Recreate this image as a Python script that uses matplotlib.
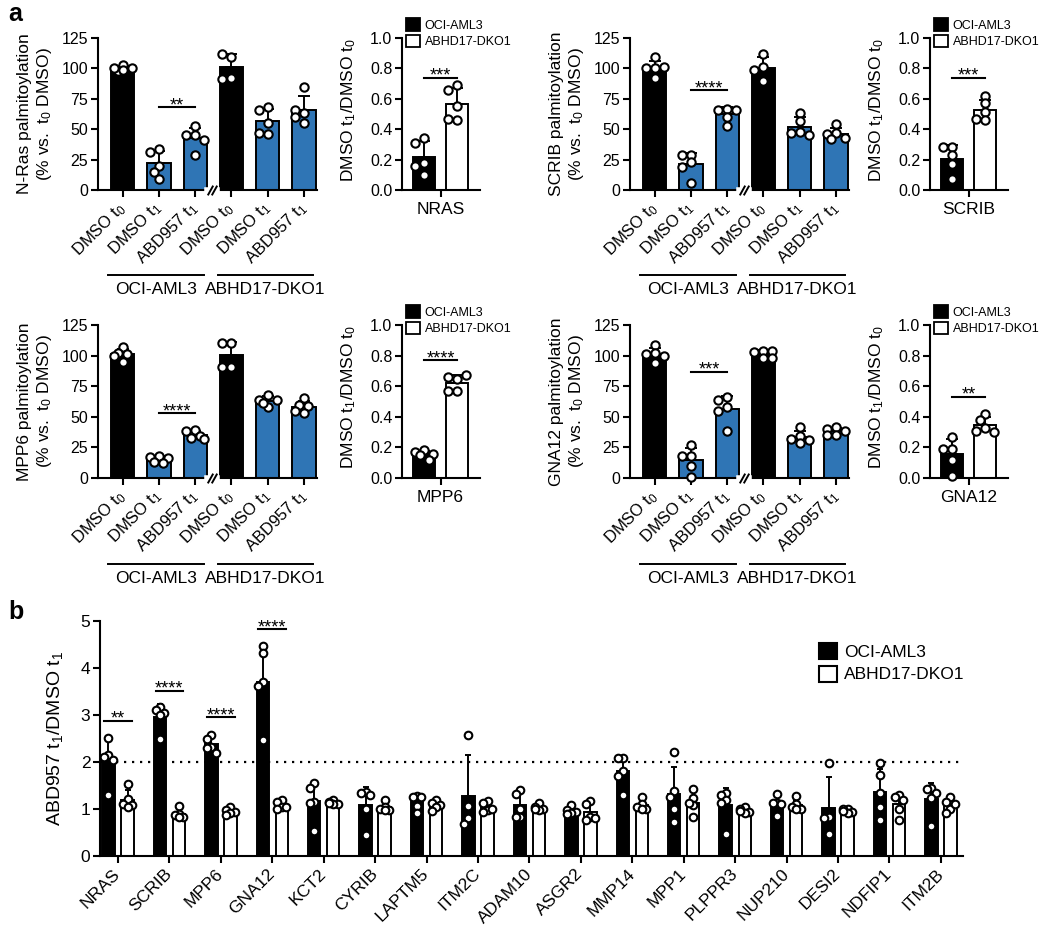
import numpy as np
import matplotlib.pyplot as plt
import matplotlib.transforms as mtransforms
from matplotlib.patches import Patch

plt.rcParams['font.family'] = ['Liberation Sans', 'DejaVu Sans']
plt.rcParams['mathtext.fontset'] = 'custom'
plt.rcParams['mathtext.rm'] = 'Liberation Sans'
plt.rcParams['mathtext.it'] = 'Liberation Sans:italic'
plt.rcParams['axes.linewidth'] = 1.5

BLUE = '#2f75b5'

# ---- panel a data (% vs t0 DMSO), order: OCI t0, OCI t1, OCI ABD, DKO t0, DKO t1, DKO ABD
nras_main = [[103, 98, 100, 100, 99], [34, 31, 20, 15, 9], [53, 45, 45, 41, 29],
             [109, 112, 92, 91], [68, 66, 55, 46, 47], [85, 63, 66, 55, 60]]
scrib_main = [[109, 100, 100, 92, 101], [29, 29, 23, 19, 6], [67, 66, 66, 53, 60],
              [112, 101, 99, 90], [63, 57, 48, 47, 45], [54, 47, 46, 43, 42]]
mpp6_main = [[107, 102, 101, 95, 100], [18, 17, 16, 13, 12], [39, 38, 34, 33, 32],
             [110, 110, 91, 91], [68, 64, 64, 58, 61], [65, 60, 59, 55, 53]]
gna12_main = [[109, 102, 101, 94, 100], [27, 18, 18, 10, 1], [66, 64, 58, 55, 38],
              [104, 103, 104, 98, 98], [42, 34, 32, 31, 29], [42, 40, 38, 35, 35]]

# DMSO t1 / DMSO t0 ratios: OCI-AML3, ABHD17-DKO1
nras_ratio = [[0.34, 0.31, 0.18, 0.16, 0.10], [0.69, 0.66, 0.55, 0.46, 0.47]]
scrib_ratio = [[0.28, 0.28, 0.23, 0.17, 0.07], [0.62, 0.57, 0.51, 0.46, 0.47]]
mpp6_ratio = [[0.18, 0.17, 0.16, 0.15, 0.12], [0.65, 0.66, 0.67, 0.57, 0.57]]
gna12_ratio = [[0.27, 0.19, 0.19, 0.12, 0.01], [0.42, 0.38, 0.33, 0.31, 0.30]]

main_labels = ['DMSO t$_0$', 'DMSO t$_1$', 'ABD957 t$_1$'] * 2
groups = ['OCI-AML3', 'ABHD17-DKO1']

# (name, ylabel name, main data, ratio data, main sig, main sig y, ratio sig, ratio sig y)
panels = [
    ('NRAS', 'N-Ras', nras_main, nras_ratio, '**', 68, '***', 0.74),
    ('SCRIB', 'SCRIB', scrib_main, scrib_ratio, '****', 82, '***', 0.74),
    ('MPP6', 'MPP6', mpp6_main, mpp6_ratio, '****', 53, '****', 0.77),
    ('GNA12', 'GNA12', gna12_main, gna12_ratio, '***', 87, '**', 0.53),
]

# ---- panel b data (ABD957 t1 / DMSO t1)
genes = ['NRAS', 'SCRIB', 'MPP6', 'GNA12', 'KCT2', 'CYRIB', 'LAPTM5', 'ITM2C', 'ADAM10',
         'ASGR2', 'MMP14', 'MPP1', 'PLPPR3', 'NUP210', 'DESI2', 'NDFIP1', 'ITM2B']
oci_b = [[2.51, 2.15, 2.11, 2.04, 1.30], [3.16, 3.10, 3.05, 3.00, 2.48],
         [2.57, 2.50, 2.32, 2.29, 2.20], [4.46, 4.31, 3.70, 3.61, 2.46],
         [1.56, 1.44, 1.15, 1.12, 0.54], [1.37, 1.33, 1.30, 0.99, 0.45],
         [1.27, 1.26, 1.25, 1.07, 0.91], [2.57, 1.07, 0.80, 0.68],
         [1.40, 1.32, 1.01, 0.84, 0.84], [1.08, 0.98, 0.93, 0.91, 0.90],
         [2.09, 2.09, 1.81, 1.70, 1.30], [2.22, 1.39, 1.26, 1.00, 0.73],
         [1.35, 1.30, 1.20, 1.12, 0.46], [1.31, 1.12, 1.12, 0.85, 1.10],
         [1.97, 0.82, 0.80, 0.46], [1.97, 1.72, 1.33, 1.05, 0.76],
         [1.45, 1.42, 1.35, 1.23, 0.64]]
dko_b = [[1.54, 1.22, 1.10, 1.08, 1.05], [1.06, 0.90, 0.87, 0.84, 0.82],
         [1.05, 0.98, 0.94, 0.91, 0.87], [1.20, 1.15, 1.05, 1.00, 1.05],
         [1.20, 1.15, 1.10, 1.10, 1.12], [1.19, 1.05, 1.01, 0.98, 0.97],
         [1.19, 1.12, 1.08, 1.05, 0.96], [1.17, 1.12, 0.98, 0.94, 1.00],
         [1.12, 1.05, 1.01, 0.98, 1.00], [1.18, 1.10, 0.84, 0.76, 0.80],
         [1.26, 1.10, 1.05, 0.99, 1.00], [1.42, 1.24, 1.08, 1.13, 0.82],
         [1.05, 1.00, 0.93, 0.91, 0.95], [1.27, 1.10, 1.05, 1.01, 1.00],
         [1.01, 0.99, 0.94, 0.91, 0.95], [1.30, 1.25, 1.20, 0.99, 0.76],
         [1.26, 1.15, 1.01, 1.10, 0.91]]
sig_b = {'NRAS': ('**', 2.88), 'SCRIB': ('****', 3.51), 'MPP6': ('****', 2.95), 'GNA12': ('****', 4.82)}

W, H = 1050, 935
fig = plt.figure(figsize=(W / 100, H / 100), dpi=100)


def rect(x0, y0, x1, y1):
    return [x0 / W, 1 - y1 / H, (x1 - x0) / W, (y1 - y0) / H]


def style(ax, fs=11.5):
    for s in ['top', 'right']:
        ax.spines[s].set_visible(False)
    ax.tick_params(width=1.5, length=5, labelsize=fs, pad=2)


def points(ax, xc, vals, d=9.0, s=36, kmax=2, step=0.5):
    # rough beeswarm: shift circles sideways when they overlap, within a limited spread
    inv = ax.transData.inverted()
    x0 = ax.transData.transform((xc, 0))[0]
    cands = [0]
    for k in range(1, kmax + 1):
        cands += [-k, k]
    placed, xs = [], []
    for v in vals:
        yp = ax.transData.transform((xc, v))[1]
        best, best_d = 0, -1
        for k in cands:
            xp = x0 + k * step * d
            md = min([np.hypot(xp - a, yp - b) for a, b in placed] + [1e9])
            if md >= 0.8 * d:
                best = xp
                break
            if md > best_d:
                best, best_d = xp, md
        placed.append((best, yp))
        xs.append(inv.transform((best, yp))[0])
    ax.scatter(xs, vals, s=s, facecolor='white', edgecolor='k', linewidth=1.5, zorder=5, clip_on=False)


def sig(ax, x1, x2, y, txt, fs=13):
    ax.plot([x1, x2], [y, y], color='k', lw=1.5, clip_on=False)
    ax.annotate(txt, ((x1 + x2) / 2, y), xytext=(0, -5), textcoords='offset points',
                ha='center', va='bottom', fontsize=fs)


def bar_panel(ax, data, colors, width, xpos, capsize):
    means = [np.mean(v) for v in data]
    sds = [np.std(v, ddof=1) for v in data]
    ax.bar(xpos, means, width=width, color=colors, edgecolor='k', linewidth=1.4, zorder=2)
    ax.errorbar(xpos, means, yerr=[np.zeros(len(sds)), sds], fmt='none', ecolor='k',
                elinewidth=1.4, capsize=capsize, capthick=1.4, zorder=3)


row_y = [(38, 190), (325, 478)]
col_x = [(98, 317, 402, 480), (630, 849, 930, 1008)]

for i, (name, yname, main, ratio, s1, y1, s2, y2) in enumerate(panels):
    ytop, ybot = row_y[i // 2]
    mx0, mx1, sx0, sx1 = col_x[i % 2]

    # main bar chart with broken x axis
    ax = fig.add_axes(rect(mx0, ytop, mx1, ybot))
    style(ax)
    ax.set_xlim(-0.68, 5.36)
    ax.set_ylim(0, 125)
    ax.set_yticks([0, 25, 50, 75, 100, 125])
    xs = np.arange(6)
    bar_panel(ax, main, ['k', BLUE, BLUE, 'k', BLUE, BLUE], 0.64, xs, 4)
    for x, v in zip(xs, main):
        points(ax, x, v)
    ax.set_xticks(xs)
    ax.set_xticklabels(main_labels, rotation=45, ha='right', va='center',
                       rotation_mode='anchor', fontsize=12)
    ax.tick_params(axis='x', pad=6)
    ax.set_ylabel(yname + ' palmitoylation\n(% vs.  t$_0$ DMSO)', fontsize=12.5)
    ax.yaxis.set_label_coords(-0.2, 0.5)
    sig(ax, 1, 2, y1, s1)
    bt = mtransforms.blended_transform_factory(ax.transData, ax.transAxes)
    ax.plot([2.33, 2.6], [0, 0], color='white', lw=4, transform=bt, clip_on=False, zorder=4)
    ax.plot([2.4, 2.53], [0, 0], ls='none', marker=[(-1, -1.8), (1, 1.8)], ms=7, mew=1.4,
            color='k', transform=bt, clip_on=False, zorder=5)
    for (a, b), g in zip([(-0.4, 2.24), (2.62, 5.24)], groups):
        ax.plot([a, b], [-0.56, -0.56], color='k', lw=1.4, transform=bt, clip_on=False)
        ax.text((a + b) / 2, -0.655, g, transform=bt, ha='center', va='center', fontsize=12.5)

    # small ratio panel
    ax2 = fig.add_axes(rect(sx0, ytop, sx1, ybot))
    style(ax2)
    ax2.set_xlim(-0.67, 1.7)
    ax2.set_ylim(0, 1.0)
    ax2.set_yticks(np.arange(0, 1.01, 0.2))
    ax2.set_yticklabels([f'{t:.1f}' for t in np.arange(0, 1.01, 0.2)])
    bar_panel(ax2, ratio, ['k', 'white'], 0.66, [0, 1], 4)
    for x, v in zip([0, 1], ratio):
        points(ax2, x, v)
    ax2.set_xticks([0.5])
    ax2.set_xticklabels([name], fontsize=12.5)
    ax2.tick_params(axis='x', pad=4)
    ax2.set_ylabel('DMSO t$_1$/DMSO t$_0$', fontsize=12.5)
    ax2.yaxis.set_label_coords(-0.56, 0.53)
    sig(ax2, 0, 1, y2, s2)
    ax2.legend(handles=[Patch(facecolor='k', edgecolor='k', lw=1.3),
                        Patch(facecolor='white', edgecolor='k', lw=1.3)],
               labels=groups, loc='upper left', bbox_to_anchor=(0.05, 1.13), frameon=False,
               fontsize=9, handlelength=1.15, handleheight=1.15, handletextpad=0.35,
               labelspacing=0.25, borderpad=0, borderaxespad=0)

fig.text(8 / W, 1 - 2 / H, 'a', fontsize=18, fontweight='bold', va='top')
fig.text(8 / W, 1 - 600 / H, 'b', fontsize=18, fontweight='bold', va='top')

# ---- panel b
axb = fig.add_axes(rect(100, 621, 963, 856))
style(axb, fs=12.5)
axb.set_xlim(-0.35, 16.43)
axb.set_ylim(0, 5)
axb.set_yticks(range(6))
gx = np.arange(len(genes))
off, bw = 0.185, 0.24
bar_panel(axb, oci_b, 'k', bw, gx - off, 2.5)
bar_panel(axb, dko_b, 'white', bw, gx + off, 2.5)
for x, v1, v2 in zip(gx, oci_b, dko_b):
    points(axb, x - off, v1, d=8, s=30, kmax=1, step=0.55)
    points(axb, x + off, v2, d=8, s=30, kmax=1, step=0.55)
axb.axhline(2, color='k', lw=1.6, ls=(0, (1, 2.6)), zorder=1)
axb.set_xticks(gx)
axb.set_xticklabels(genes, rotation=45, ha='right', va='center', rotation_mode='anchor', fontsize=12.5)
axb.tick_params(axis='x', pad=6)
axb.set_ylabel('ABD957 t$_1$/DMSO t$_1$', fontsize=14)
axb.yaxis.set_label_coords(-0.04, 0.5)
for g, (txt, y) in sig_b.items():
    x = genes.index(g)
    sig(axb, x - 0.27, x + 0.27, y, txt, fs=13)
axb.legend(handles=[Patch(facecolor='k', edgecolor='k', lw=1.5),
                    Patch(facecolor='white', edgecolor='k', lw=1.5)],
           labels=groups, loc='upper left', bbox_to_anchor=(0.833, 0.905), frameon=False,
           fontsize=12.5, handlelength=1.05, handleheight=1.05, handletextpad=0.4,
           labelspacing=0.3, borderpad=0, borderaxespad=0)

fig.savefig('out.png', dpi=100)
